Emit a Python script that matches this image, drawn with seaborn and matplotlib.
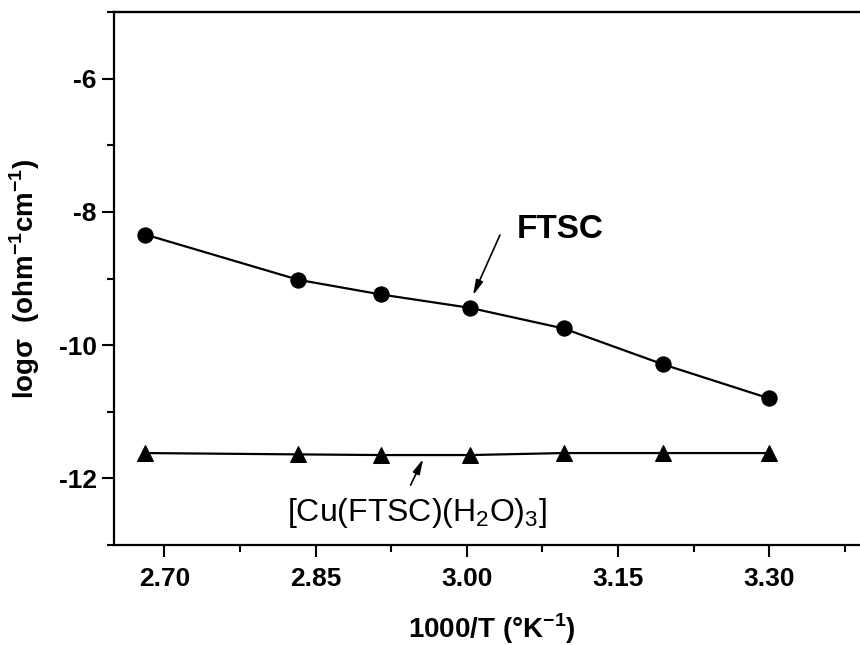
import matplotlib
matplotlib.use("Agg")
import matplotlib.pyplot as plt
from matplotlib.ticker import MultipleLocator
import seaborn as sns
import pandas as pd

# Inverse temperature, 1000/T (K^-1)
inv_temp = [2.681, 2.833, 2.915, 3.003, 3.096, 3.195, 3.300]
# log conductivity of the free ligand
log_sigma_ftsc = [-8.34, -9.02, -9.24, -9.44, -9.75, -10.29, -10.80]
# log conductivity of the copper complex
log_sigma_cu = [-11.62, -11.64, -11.65, -11.65, -11.62, -11.62, -11.62]

x_ticks = [2.70, 2.85, 3.00, 3.15, 3.30]
y_ticks = [-12, -10, -8, -6]

df = pd.DataFrame({"x": inv_temp, "ftsc": log_sigma_ftsc, "cu": log_sigma_cu})

sns.set_style("ticks")
plt.rcParams["font.family"] = ["Liberation Sans", "DejaVu Sans"]
plt.rcParams["mathtext.fontset"] = "custom"
plt.rcParams["mathtext.rm"] = "Liberation Sans"
plt.rcParams["mathtext.bf"] = "Liberation Sans:bold"
plt.rcParams["text.color"] = "black"
plt.rcParams["axes.labelcolor"] = "black"
plt.rcParams["xtick.color"] = "black"
plt.rcParams["ytick.color"] = "black"

fig = plt.figure(figsize=(8.6, 6.45), dpi=100)
L, R, T, B = 114, 870, 12, 545
ax = fig.add_axes([L / 860, 1 - B / 645, (R - L) / 860, (B - T) / 645])

sns.lineplot(data=df, x="x", y="ftsc", ax=ax, color="black", linewidth=1.6,
             marker="o", markersize=11, markeredgecolor="black")
sns.lineplot(data=df, x="x", y="cu", ax=ax, color="black", linewidth=1.6,
             marker="^", markersize=12, markeredgecolor="black")

ax.set_xlim(2.65, 3.40)
ax.set_ylim(-13, -5)
ax.set_xticks(x_ticks)
ax.set_xticklabels([f"{v:.2f}" for v in x_ticks])
ax.set_yticks(y_ticks)
ax.set_yticklabels([str(v) for v in y_ticks])
ax.xaxis.set_minor_locator(MultipleLocator(0.075))
ax.yaxis.set_minor_locator(MultipleLocator(1))

for side in ["left", "bottom", "top", "right"]:
    ax.spines[side].set_linewidth(1.6)
    ax.spines[side].set_color("black")

ax.tick_params(axis="both", which="major", direction="out", length=8.5,
               width=1.5, labelsize=19, labelcolor="black", color="black")
ax.tick_params(axis="both", which="minor", direction="out", length=5,
               width=1.5, color="black")
ax.tick_params(axis="x", which="major", pad=7)
ax.tick_params(axis="y", which="major", pad=4)
for lab in ax.get_xticklabels() + ax.get_yticklabels():
    lab.set_fontweight("bold")

# small marks along the top frame
top = ax.secondary_xaxis("top")
top.set_xticks(x_ticks)
top.xaxis.set_minor_locator(MultipleLocator(0.075))
top.tick_params(which="both", direction="inout", length=2, width=1.2,
                labeltop=False, color="black")
top.spines["top"].set_linewidth(1.6)

ax.set_xlabel(r"1000/T (°K$^{\mathbf{-1}}$)", fontsize=20, fontweight="bold",
              labelpad=15)
ax.set_ylabel(r"log$\mathbf{\sigma}$  (ohm$^{\mathbf{-1}}$cm$^{\mathbf{-1}}$)",
              fontsize=20, fontweight="bold", labelpad=12)

# Series labels with pointing arrows
ax.annotate("", xy=(3.005, -9.29), xytext=(3.034, -8.31),
            arrowprops=dict(arrowstyle="-|>,head_length=0.9,head_width=0.22",
                            color="black", lw=1.2))
ax.text(3.05, -8.27, "FTSC", fontsize=24, fontweight="bold",
        ha="left", va="center")

ax.annotate("", xy=(2.958, -11.67), xytext=(2.943, -12.14),
            arrowprops=dict(arrowstyle="-|>,head_length=0.9,head_width=0.22",
                            color="black", lw=1.2))
ax.text(2.822, -12.52, r"[Cu(FTSC)(H$_2$O)$_3$]", fontsize=23,
        ha="left", va="center")

fig.savefig("out.png", dpi=100)
